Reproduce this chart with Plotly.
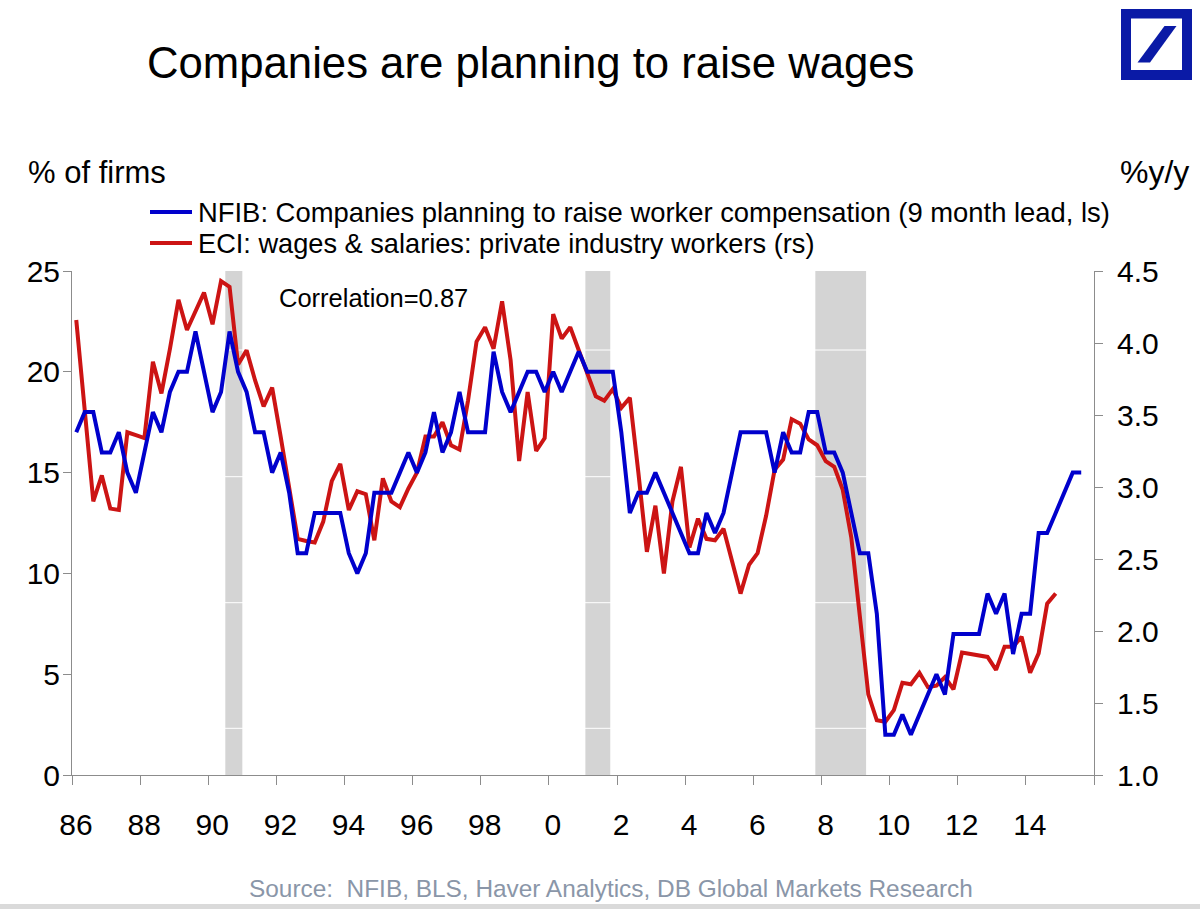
import plotly.graph_objects as go

# ---------------- data ----------------
START_YEAR = 1986  # first quarter of both series: 1986 Q1

# ECI: wages & salaries, private industry workers, %y/y (right scale), quarterly
eci = [4.16, 3.53, 2.90, 3.08, 2.85, 2.84, 3.38, 3.36, 3.34, 3.87,
       3.65, 3.96, 4.30, 4.09, 4.22, 4.35, 4.13, 4.43, 4.39, 3.85,
       3.95, 3.74, 3.56, 3.69, 3.35, 3.00, 2.64, 2.625, 2.615, 2.76,
       3.04, 3.16, 2.84, 2.97, 2.95, 2.63, 3.06, 2.90, 2.86, 2.99,
       3.10, 3.35, 3.35, 3.45, 3.29, 3.26, 3.60, 4.01, 4.11, 3.96,
       4.29, 3.88, 3.18, 3.66, 3.25, 3.34, 4.20, 4.03, 4.11, 3.95,
       3.79, 3.63, 3.60, 3.68, 3.55, 3.62, 3.10, 2.55, 2.87, 2.40,
       2.90, 3.14, 2.58, 2.78, 2.64, 2.63, 2.71, 2.49, 2.26, 2.46,
       2.54, 2.80, 3.12, 3.19, 3.47, 3.44, 3.33, 3.29, 3.18, 3.14,
       2.98, 2.65, 2.10, 1.56, 1.38, 1.37, 1.45, 1.64, 1.63, 1.71,
       1.61, 1.62, 1.68, 1.595, 1.85, 1.84, 1.83, 1.82, 1.73, 1.89,
       1.89, 1.96, 1.71, 1.845, 2.19, 2.26]

# NFIB: % of firms planning to raise worker compensation (9 month lead, left scale)
nfib = [17, 18, 18, 16, 16, 17, 15, 14, 16, 18,
        17, 19, 20, 20, 22, 20, 18, 19, 22, 20,
        19, 17, 17, 15, 16, 14, 11, 11, 13, 13,
        13, 13, 11, 10, 11, 14, 14, 14, 15, 16,
        15, 16, 18, 16, 17, 19, 17, 17, 17, 21,
        19, 18, 19, 20, 20, 19, 20, 19, 20, 21,
        20, 20, 20, 20, 17, 13, 14, 14, 15, 14,
        13, 12, 11, 11, 13, 12, 13, 15, 17, 17,
        17, 17, 15, 17, 16, 16, 18, 18, 16, 16,
        15, 13, 11, 11, 8, 2, 2, 3, 2, 3,
        4, 5, 4, 7, 7, 7, 7, 9, 8, 9,
        6, 8, 8, 12, 12, 13, 14, 15, 15]

# recession periods (decimal years)
recession_start = [1990.5, 2001.07, 2007.82]
recession_end = [1991.0, 2001.80, 2009.31]

x_tick_years = [1986, 1988, 1990, 1992, 1994, 1996, 1998, 2000, 2002,
                2004, 2006, 2008, 2010, 2012, 2014, 2016]
x_tick_labels = ["86", "88", "90", "92", "94", "96", "98", "0", "2",
                 "4", "6", "8", "10", "12", "14", ""]
left_ticks = [0, 5, 10, 15, 20, 25]
right_ticks = [1.0, 1.5, 2.0, 2.5, 3.0, 3.5, 4.0, 4.5]

TITLE = "Companies are planning to raise wages"
NFIB_NAME = "NFIB: Companies planning to raise worker compensation (9 month lead, ls)"
ECI_NAME = "ECI: wages & salaries: private industry workers (rs)"
SOURCE = "Source:  NFIB, BLS, Haver Analytics, DB Global Markets Research"

# ---------------- styling ----------------
BLUE = "#0000CC"
RED = "#CC1414"
GREY_AXIS = "#8C8C8C"
SHADE = "#D4D4D4"
DB_BLUE = "#0A1AA6"
FONT = "Liberation Sans, Arial, sans-serif"
TICK_SIZE = 30
LINE_W = 4

W, H = 1200, 909
PL, PR, PT, PB = 72, 1094, 271, 775   # plot area in pixels


def fx(p):
    return (p - PL) / (PR - PL)


def fy(p):
    return (PB - p) / (PB - PT)


def quarter_times(n):
    # centre of each quarter, as a decimal year
    return [START_YEAR + (i + 0.5) / 4.0 for i in range(n)]


fig = go.Figure()

# ECI on the primary (right-hand) axis, NFIB on an overlaid left axis so it draws on top
fig.add_trace(go.Scatter(
    x=quarter_times(len(eci)), y=eci, mode="lines", name=ECI_NAME,
    line=dict(color=RED, width=LINE_W), yaxis="y", showlegend=False,
    hoverinfo="x+y"))
fig.add_trace(go.Scatter(
    x=quarter_times(len(nfib)), y=nfib, mode="lines", name=NFIB_NAME,
    line=dict(color=BLUE, width=LINE_W), yaxis="y2", showlegend=False,
    hoverinfo="x+y"))

shapes = []
# recession bars
for s, e in zip(recession_start, recession_end):
    shapes.append(dict(type="rect", xref="x", yref="paper", x0=s, x1=e, y0=0, y1=1,
                       fillcolor=SHADE, line=dict(width=0), layer="below"))
# faint white gridlines visible across the shaded bars
for gy in [350, 476.7, 602.7, 728.3]:
    shapes.append(dict(type="line", xref="paper", yref="paper", x0=0, x1=1,
                       y0=fy(gy), y1=fy(gy), line=dict(color="white", width=1),
                       layer="below"))
# legend keys
for ly, col in [(212, BLUE), (243, RED)]:
    shapes.append(dict(type="line", xref="paper", yref="paper",
                       x0=fx(150), x1=fx(192), y0=fy(ly), y1=fy(ly),
                       line=dict(color=col, width=LINE_W)))
# Deutsche Bank logo
shapes.append(dict(type="rect", xref="paper", yref="paper",
                   x0=fx(1121), x1=fx(1192), y0=fy(80), y1=fy(9),
                   fillcolor=DB_BLUE, line=dict(width=0)))
shapes.append(dict(type="rect", xref="paper", yref="paper",
                   x0=fx(1131), x1=fx(1182), y0=fy(70), y1=fy(18.5),
                   fillcolor="white", line=dict(width=0)))
slash = [(1137.5, 62.5), (1150, 62.5), (1176.5, 26), (1164.5, 26)]
path = "M " + " L ".join(f"{fx(a):.5f},{fy(b):.5f}" for a, b in slash) + " Z"
shapes.append(dict(type="path", xref="paper", yref="paper", path=path,
                   fillcolor=DB_BLUE, line=dict(width=0)))
# light border line at the bottom of the picture
shapes.append(dict(type="rect", xref="paper", yref="paper",
                   x0=fx(0), x1=fx(1200), y0=fy(909), y1=fy(904),
                   fillcolor="#DADADA", line=dict(width=0)))


def ann(text, x, y, size, xanchor="left", color="black"):
    return dict(text=text, xref="paper", yref="paper", x=fx(x), y=fy(y),
                xanchor=xanchor, yanchor="middle", showarrow=False,
                font=dict(family=FONT, size=size, color=color))


annotations = [
    ann(TITLE, 530, 63, 43.7, "center"),
    ann("% of firms", 26, 172, 31, "left"),
    ann("%y/y", 1191, 172, 32, "right"),
    ann(NFIB_NAME, 196, 212, 27.4, "left"),
    ann(ECI_NAME, 196, 243, 27.2, "left"),
    ann("Correlation=0.87", 277, 298, 25.5, "left"),
    ann(SOURCE, 611, 888, 24.4, "center", "#8A96A8"),
]

axis_common = dict(showgrid=False, zeroline=False, showline=True, linecolor=GREY_AXIS,
                   linewidth=1, ticks="outside", tickcolor=GREY_AXIS, tickwidth=1,
                   tickfont=dict(family=FONT, size=TICK_SIZE, color="black"))

fig.update_layout(
    width=W, height=H,
    margin=dict(l=PL, r=W - PR, t=PT, b=H - PB, pad=0),
    paper_bgcolor="white", plot_bgcolor="white",
    font=dict(family=FONT, color="black"),
    showlegend=False,
    xaxis=dict(range=[1986, 2016], tickmode="array", tickvals=x_tick_years,
               ticktext=x_tick_labels, ticklen=9, ticklabelstandoff=14,
               ticklabelshift=4, **axis_common),
    yaxis=dict(range=[1.0, 4.5], tickmode="array", tickvals=right_ticks,
               tickformat=".1f", side="right", ticklen=8, ticklabelstandoff=8,
               **axis_common),
    yaxis2=dict(range=[0, 25], tickmode="array", tickvals=left_ticks,
                side="left", overlaying="y", ticklen=8, ticklabelstandoff=-3,
                **axis_common),
    shapes=shapes,
    annotations=annotations,
)

fig.write_html("out.html", config={"displayModeBar": False},
               post_script="document.body.style.margin='0';document.body.style.padding='0';")
